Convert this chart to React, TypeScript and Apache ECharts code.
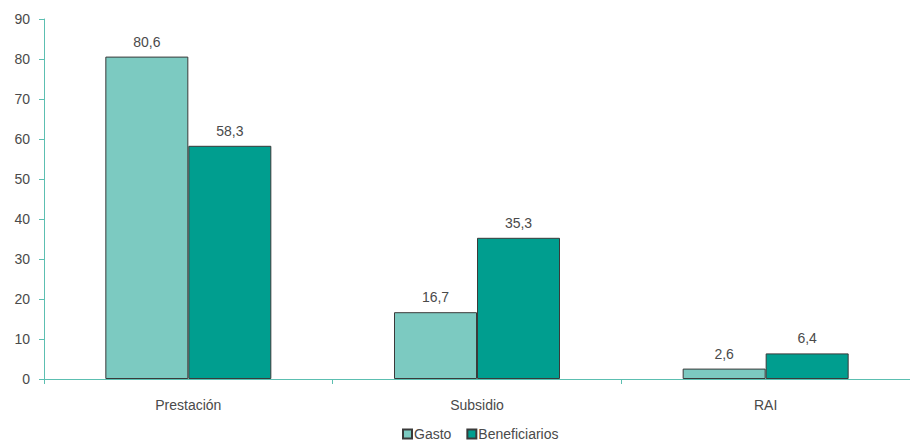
import React, { useEffect, useRef } from "react";
import * as echarts from "echarts";

const categories = ["Prestación", "Subsidio", "RAI"];
const gasto = [80.6, 16.7, 2.6];
const beneficiarios = [58.3, 35.3, 6.4];
const seriesNames = ["Gasto", "Beneficiarios"];

export default function App() {
  const ref = useRef<HTMLDivElement>(null);
  useEffect(() => {
    if (!ref.current) return;
    const chart = echarts.init(ref.current, undefined, { renderer: "svg" });
    const font = "'Liberation Sans', Arial, Helvetica, sans-serif";
    const axisColor = "#5cbfb1";
    const textColor = "#4a4a4a";
    const label = {
      show: true,
      position: "top" as const,
      color: textColor,
      fontSize: 14,
      fontFamily: font,
      distance: 8,
      formatter: (p: any) => String(p.value).replace(".", ","),
    };
    chart.setOption({
      animation: false,
      textStyle: { fontFamily: font },
      grid: { left: 44, width: 872, top: 19, height: 360, containLabel: false },
      legend: {
        top: 425,
        left: 400,
        padding: 2,
        itemWidth: 9,
        itemHeight: 9,
        itemGap: 15,
        icon: "rect",
        textStyle: { color: textColor, fontSize: 14, fontFamily: font, padding: [0, 0, 0, -3] },
        data: seriesNames,
      },
      xAxis: {
        type: "category",
        data: categories,
        axisLine: { lineStyle: { color: axisColor, width: 1 } },
        axisTick: { show: true, length: 5, lineStyle: { color: axisColor } },
        axisLabel: { color: textColor, fontSize: 14, fontFamily: font, margin: 19 },
      },
      yAxis: {
        type: "value",
        min: 0,
        max: 90,
        interval: 10,
        splitLine: { show: false },
        axisLine: { show: true, lineStyle: { color: axisColor, width: 1 } },
        axisTick: { show: true, length: 5, lineStyle: { color: axisColor } },
        axisLabel: { color: textColor, fontSize: 14, fontFamily: font, margin: 14 },
      },
      series: [
        {
          name: seriesNames[0],
          type: "bar",
          data: gasto,
          barWidth: 83,
          barGap: "0%",
          itemStyle: { color: "#7ccac1", borderColor: "#3a3a3a", borderWidth: 1 },
          label,
        },
        {
          name: seriesNames[1],
          type: "bar",
          data: beneficiarios,
          barWidth: 83,
          barGap: "0%",
          itemStyle: { color: "#009e8f", borderColor: "#3a3a3a", borderWidth: 1 },
          label,
        },
      ],
    });
    return () => chart.dispose();
  }, []);
  return <div ref={ref} style={{ width: 910, height: 446, position: "absolute", left: 0, top: 0 }} />;
}
